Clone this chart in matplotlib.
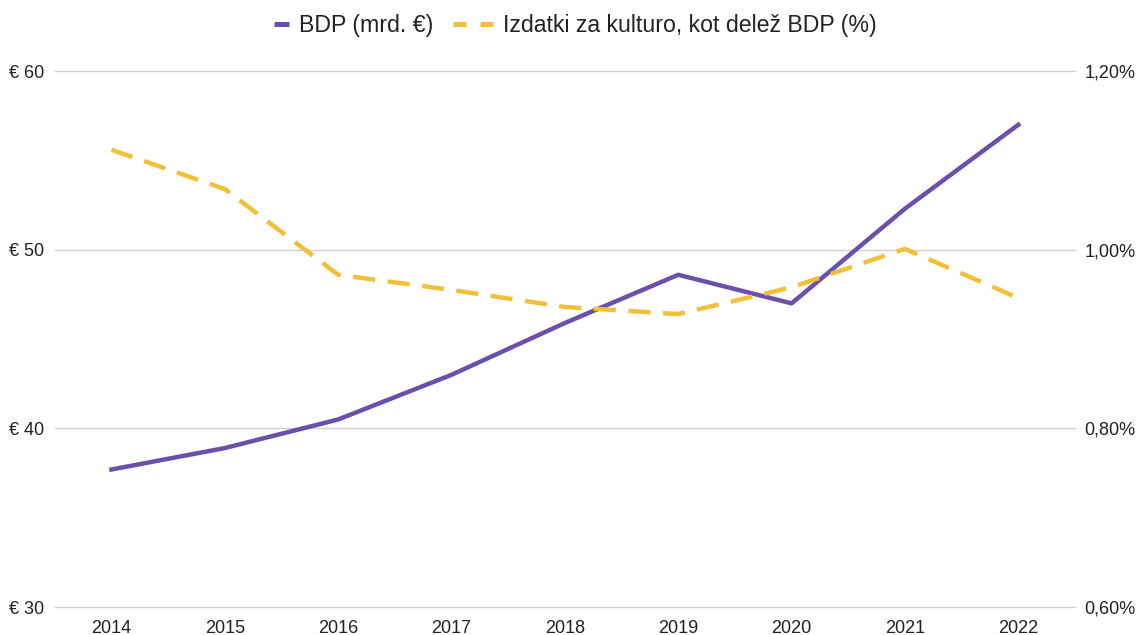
import matplotlib.pyplot as plt
from matplotlib.lines import Line2D
from matplotlib.ticker import FuncFormatter

plt.rcParams["font.family"] = ["Liberation Sans", "DejaVu Sans"]

# data
years = [2014, 2015, 2016, 2017, 2018, 2019, 2020, 2021, 2022]
bdp = [37.7, 38.9, 40.5, 43.0, 45.9, 48.6, 47.0, 52.3, 57.0]
culture_share = [1.112, 1.068, 0.972, 0.955, 0.936, 0.928, 0.958, 1.001, 0.946]
left_ticks = [30, 40, 50, 60]
right_ticks = [0.60, 0.80, 1.00, 1.20]
labels = ["BDP (mrd. €)", "Izdatki za kulturo, kot delež BDP (%)"]

purple = "#6a4fab"
yellow = "#f2c037"
text_col = "#222222"

fig = plt.figure(figsize=(11.4, 6.35), dpi=100)
ax = fig.add_axes([0.048, 0.044, 0.895, 0.844])
ax2 = ax.twinx()

# lines
ax.plot(years, bdp, color=purple, lw=3.2, zorder=3)
ax2.plot(years, culture_share, color=yellow, lw=3.2, dashes=(5, 2.8), zorder=3)

# axes setup
ax.set_xlim(2013.5, 2022.5)
ax.set_ylim(30, 60)
ax2.set_ylim(0.60, 1.20)
ax.set_xticks(years)
ax.set_yticks(left_ticks)
ax2.set_yticks(right_ticks)
ax.yaxis.set_major_formatter(FuncFormatter(lambda v, p: f"€ {v:.0f}"))
ax2.yaxis.set_major_formatter(FuncFormatter(lambda v, p: f"{v:.2f}%".replace(".", ",")))

ax.grid(axis="y", color="#d0d0d0", lw=1)
ax.set_axisbelow(True)
for gl in ax.get_ygridlines():
    gl.set_clip_on(False)
for a in (ax, ax2):
    for s in a.spines.values():
        s.set_visible(False)
    a.tick_params(length=0, labelsize=13, labelcolor=text_col)
ax.tick_params(axis="x", pad=9)
ax2.tick_params(axis="y", pad=7)
for lab in ax.get_yticklabels():
    lab.set_horizontalalignment("left")
    lab.set_x(-0.040)

# legend with short handles like the original
h1 = Line2D([], [], color=purple, lw=3.6, solid_capstyle="butt",
            dash_capstyle="butt", linestyle=(3, (3, 5)))
h2 = Line2D([], [], color=yellow, lw=3.6, dash_capstyle="butt",
            linestyle=(0, (2.6, 2.8)))
fig.legend(handles=[h1, h2], labels=labels, loc="upper center",
           bbox_to_anchor=(0.494, 1.011), ncol=2, frameon=False, fontsize=16.7,
           handlelength=1.72, handletextpad=0.43, columnspacing=0.86,
           labelcolor=text_col)

fig.savefig("out.png", dpi=100)
